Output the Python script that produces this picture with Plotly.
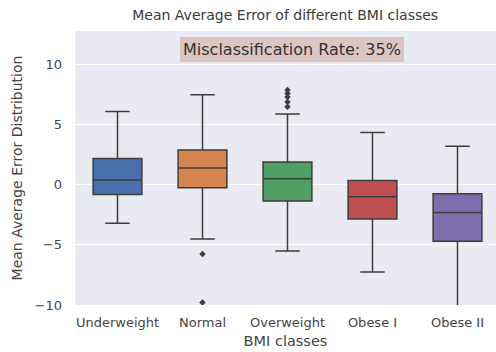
import plotly.graph_objects as go

# BMI classes and their error-distribution summaries
categories = ["Underweight", "Normal", "Overweight", "Obese I", "Obese II"]
q1 = [-0.8, -0.25, -1.35, -2.85, -4.7]
median = [0.4, 1.4, 0.5, -1.0, -2.3]
q3 = [2.2, 2.9, 1.9, 0.35, -0.75]
lower_fence = [-3.2, -4.5, -5.5, -7.25, -11.0]
upper_fence = [6.1, 7.5, 5.9, 4.35, 3.2]

# Outlying points per class
outlier_x = ["Normal", "Normal", "Overweight", "Overweight", "Overweight", "Overweight", "Overweight"]
outlier_y = [-5.75, -9.8, 6.5, 6.9, 7.3, 7.6, 7.9]

colors = ["#4a6fad", "#d7854f", "#4f9f63", "#c0504f", "#7d6fae"]
line_col = "#3d3d3d"
font_fam = "DejaVu Sans, sans-serif"
text_col = "#444444"

fig = go.Figure()
for i, cat in enumerate(categories):
    fig.add_trace(go.Box(
        x=[cat], q1=[q1[i]], median=[median[i]], q3=[q3[i]],
        lowerfence=[lower_fence[i]], upperfence=[upper_fence[i]],
        fillcolor=colors[i], line=dict(color=line_col, width=1.5),
        whiskerwidth=0.5, boxpoints=False, showlegend=False,
    ))

fig.add_trace(go.Scatter(
    x=outlier_x, y=outlier_y, mode="markers",
    marker=dict(symbol="diamond", size=5, color=line_col),
    showlegend=False, cliponaxis=True,
))

fig.update_layout(
    width=496, height=352,
    margin=dict(l=75, r=0, t=31, b=47),
    paper_bgcolor="white", plot_bgcolor="#eaeaf2",
    boxmode="overlay", boxgap=0.18,
    font=dict(family=font_fam, size=13, color=text_col),
    title=dict(text="Mean Average Error of different BMI classes",
               x=0.575, xref="container", xanchor="center",
               y=1 - 15 / 352, yref="container", yanchor="middle",
               font=dict(size=14, color="#3a3a3a")),
    xaxis=dict(type="category", categoryorder="array", categoryarray=categories,
               range=[-0.5, 4.453], showgrid=False, zeroline=False,
               ticks="", ticklabelstandoff=8, tickfont=dict(size=13),
               title=dict(text="BMI classes", standoff=6,
                          font=dict(size=14.5, color=text_col))),
    yaxis=dict(range=[-10, 12.8], tickvals=[-10, -5, 0, 5, 10],
               ticktext=["\u221210", "\u22125", "0", "5", "10"],
               showgrid=True, gridcolor="white", gridwidth=1.2, zeroline=False,
               ticks="", ticklabelstandoff=12, tickfont=dict(size=13),
               title=dict(text="Mean Average Error Distribution", standoff=8,
                          font=dict(size=14, color=text_col))),
)

fig.add_annotation(
    text="Misclassification Rate: 35%", xref="paper", yref="paper",
    x=0.515, y=(305 - 49.5) / 274, xanchor="center", yanchor="middle",
    showarrow=False,
    font=dict(family=font_fam, size=16, color="#333333"),
    bgcolor="#dcc6c4", bordercolor="#dcc6c4", borderpad=2,
)

fig.write_html("out.html")
